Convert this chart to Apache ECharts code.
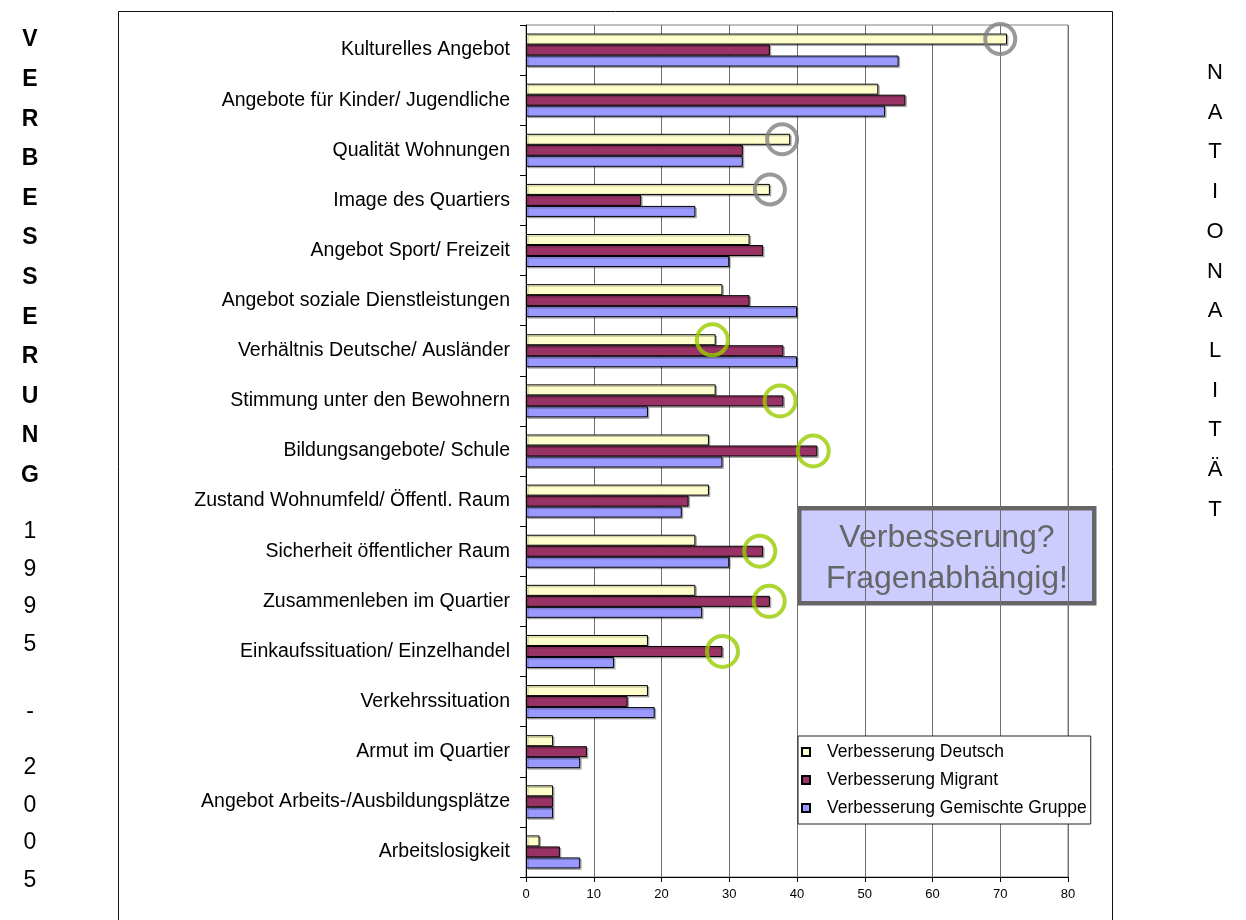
<!DOCTYPE html>
<html>
<head>
<meta charset="utf-8">
<title>Verbesserung 1995 - 2005</title>
<script src="https://cdn.jsdelivr.net/npm/echarts@6/dist/echarts.min.js"></script>
<style>
  html, body { margin: 0; padding: 0; background: #fff; }
  #chart { width: 1246px; height: 920px; }
</style>
</head>
<body>
<div id="chart"></div>
<script>
// Survey items, top to bottom
const categories = [
  'Kulturelles Angebot',
  'Angebote für Kinder/ Jugendliche',
  'Qualität Wohnungen',
  'Image des Quartiers',
  'Angebot Sport/ Freizeit',
  'Angebot soziale Dienstleistungen',
  'Verhältnis Deutsche/ Ausländer',
  'Stimmung unter den Bewohnern',
  'Bildungsangebote/ Schule',
  'Zustand Wohnumfeld/ Öffentl. Raum',
  'Sicherheit öffentlicher Raum',
  'Zusammenleben im Quartier',
  'Einkaufssituation/ Einzelhandel',
  'Verkehrssituation',
  'Armut im Quartier',
  'Angebot Arbeits-/Ausbildungsplätze',
  'Arbeitslosigkeit'
];

const seriesNames = ['Verbesserung Deutsch', 'Verbesserung Migrant', 'Verbesserung Gemischte Gruppe'];
const deutsch  = [71, 52, 39, 36, 33, 29, 28, 28, 27, 27, 25, 25, 18, 18, 4, 4, 2];
const migrant  = [36, 56, 32, 17, 35, 33, 38, 38, 43, 24, 35, 36, 29, 15, 9, 4, 5];
const gemischt = [55, 53, 32, 25, 30, 40, 40, 18, 29, 23, 30, 26, 13, 19, 8, 4, 8];

const xTicks = { min: 0, max: 80, step: 10 };

// Highlight rings: [item, value, group]
const greyRings = [
  ['Kulturelles Angebot', 70, 'Deutsch'],
  ['Qualität Wohnungen', 37.8, 'Deutsch'],
  ['Image des Quartiers', 36, 'Deutsch']
];
const greenRings = [
  ['Verhältnis Deutsche/ Ausländer', 27.5, 'Deutsch'],
  ['Stimmung unter den Bewohnern', 37.5, 'Migrant'],
  ['Bildungsangebote/ Schule', 42.4, 'Migrant'],
  ['Sicherheit öffentlicher Raum', 34.5, 'Migrant'],
  ['Zusammenleben im Quartier', 35.9, 'Migrant'],
  ['Einkaufssituation/ Einzelhandel', 29, 'Migrant']
];

const sideTitleBold = 'VERBESSERUNG';
const yearFrom = '1995';
const yearSep = '-';
const yearTo = '2005';
const sideTitleRight = 'NATIONALITÄT';
const noteLines = ['Verbesserung?', 'Fragenabhängig!'];

// ---- styling ----
const FONT = '"Liberation Sans", Arial, Helvetica, sans-serif';
const colors = ['#FFFFCC', '#993366', '#9999FF'];
const BAR_W = 11;
const groupOffset = { Deutsch: -BAR_W, Migrant: 0, Gemischt: BAR_W };

function barSeries(name, data, color) {
  return {
    name: name,
    type: 'bar',
    data: data,
    barWidth: BAR_W,
    barGap: '0%',
    itemStyle: {
      color: color,
      borderColor: '#000',
      borderWidth: 1,
      shadowColor: 'rgba(0,0,0,0.25)',
      shadowOffsetX: 1.5,
      shadowOffsetY: 1.5,
      shadowBlur: 0
    },
    emphasis: { disabled: true },
    silent: true
  };
}

function ringSeries(rings, color, size) {
  return {
    type: 'scatter',
    silent: true,
    symbol: 'circle',
    symbolSize: size,
    z: 5,
    itemStyle: { color: 'rgba(0,0,0,0)', borderColor: color, borderWidth: 4 },
    data: rings.map(r => ({ value: [r[1], r[0]], symbolOffset: [0, groupOffset[r[2]]] }))
  };
}

// side lettering
const graphics = [];
function addColumn(text, x, y0, step, size, weight) {
  Array.from(text).forEach((ch, i) => {
    graphics.push({
      type: 'text', x: x, y: y0 + i * step, silent: true,
      style: { text: ch, font: weight + ' ' + size + 'px ' + FONT, fill: '#000', align: 'center', verticalAlign: 'middle' }
    });
  });
}
addColumn(sideTitleBold, 30, 40, 39.6, 23, 'bold');
addColumn(yearFrom, 30, 532, 37.5, 23, 'normal');
addColumn(yearSep, 30, 712, 37.5, 23, 'normal');
addColumn(yearTo, 30, 768, 37.5, 23, 'normal');
addColumn(sideTitleRight, 1215, 73, 39.7, 22, 'normal');

// outer chart frame
graphics.push({
  type: 'rect', silent: true, z: 0,
  shape: { x: 118.5, y: 11.5, width: 994, height: 940 },
  style: { fill: 'none', stroke: '#111', lineWidth: 1 }
});

// note box
graphics.push({
  type: 'group', left: 797, top: 506, z: 10, silent: true,
  children: [
    { type: 'rect', shape: { x: 2.25, y: 2.25, width: 295, height: 95 },
      style: { fill: '#CCCCFF', stroke: '#666666', lineWidth: 4.5 } },
    { type: 'text', x: 150, y: 32, style: { text: noteLines[0], font: '32px ' + FONT, fill: '#666666', align: 'center', verticalAlign: 'middle' } },
    { type: 'text', x: 150, y: 73, style: { text: noteLines[1], font: '32px ' + FONT, fill: '#666666', align: 'center', verticalAlign: 'middle' } }
  ]
});

const option = {
  animation: false,
  backgroundColor: '#fff',
  textStyle: { fontFamily: FONT },
  grid: {
    left: 526, right: 178, top: 25, bottom: 43,
    show: true, borderColor: '#808080', borderWidth: 1, backgroundColor: 'transparent'
  },
  legend: {
    data: seriesNames,
    orient: 'vertical',
    left: 798, top: 736,
    selectedMode: false,
    icon: 'rect',
    itemWidth: 8, itemHeight: 8,
    itemGap: 10,
    padding: [7, 4, 7, 3],
    backgroundColor: '#fff',
    borderColor: '#222',
    borderWidth: 1,
    z: 8,
    textStyle: { fontSize: 17.5, lineHeight: 18, color: '#000', fontFamily: FONT, padding: [0, 0, 0, 12] }
  },
  xAxis: {
    type: 'value',
    min: xTicks.min, max: xTicks.max, interval: xTicks.step,
    axisLine: { show: true, lineStyle: { color: '#000', width: 1 } },
    axisTick: { show: true, length: 5, lineStyle: { color: '#000' } },
    axisLabel: { fontSize: 13, color: '#000', margin: 11, fontFamily: FONT },
    splitLine: { show: true, lineStyle: { color: '#707070', width: 1 } }
  },
  yAxis: {
    type: 'category',
    data: categories,
    inverse: true,
    axisLine: { show: true, lineStyle: { color: '#000', width: 1 } },
    axisTick: { show: true, length: 6, alignWithLabel: false, lineStyle: { color: '#000' } },
    axisLabel: { fontSize: 19.5, color: '#000', margin: 16, fontFamily: FONT },
    splitLine: { show: false }
  },
  series: [
    barSeries(seriesNames[0], deutsch, colors[0]),
    barSeries(seriesNames[1], migrant, colors[1]),
    barSeries(seriesNames[2], gemischt, colors[2]),
    ringSeries(greyRings, '#808080', 30),
    ringSeries(greenRings, '#99CC00', 31)
  ],
  graphic: graphics
};

const chart = echarts.init(document.getElementById('chart'), null, { renderer: 'canvas' });
chart.setOption(option);
</script>
</body>
</html>
